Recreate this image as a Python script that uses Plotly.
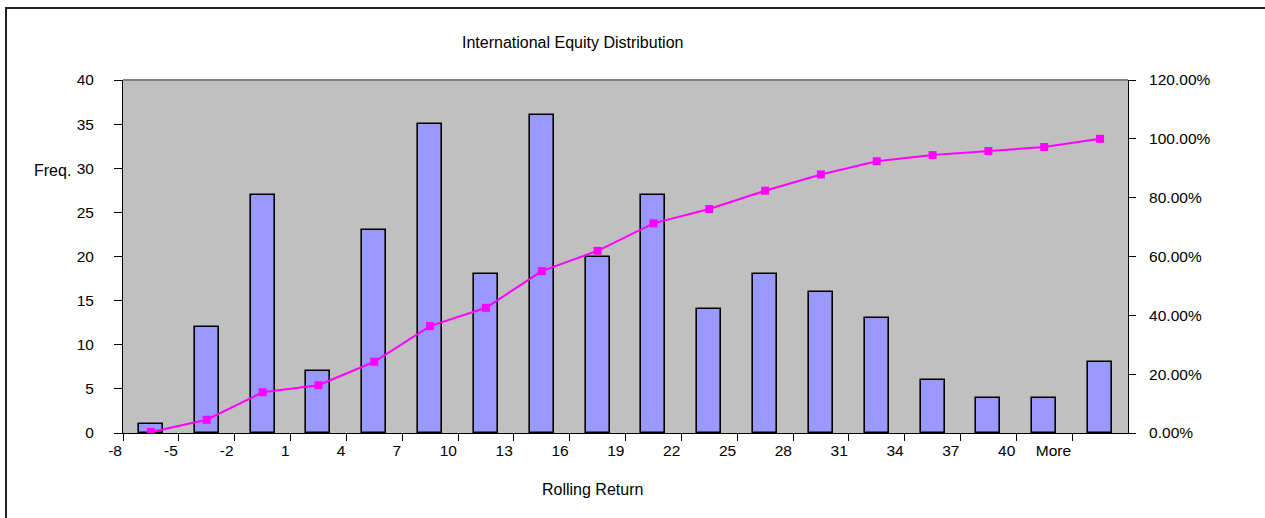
import numpy as np
import plotly.graph_objects as go

# Histogram bins (label shown at each bin's left boundary) and counts
bin_labels = ["-8", "-5", "-2", "1", "4", "7", "10", "13", "16", "19",
              "22", "25", "28", "31", "34", "37", "40", "More"]
frequency = [1, 12, 27, 7, 23, 35, 18, 36, 20, 27, 14, 18, 16, 13, 6, 4, 4, 8]

# Cumulative share of observations
cumulative_pct = np.cumsum(frequency) / np.sum(frequency)

n = len(frequency)
centers = np.arange(n) + 0.5
boundaries = np.arange(n)

FONT = "Liberation Sans, Arial, sans-serif"
TICK_SIZE = 15.5
TEXT_SIZE = 16
W, H = 1265, 518
L, R, T, B = 123, 137, 80, 85
pw, ph = W - L - R, H - T - B

fig = go.Figure()

fig.add_trace(go.Bar(
    x=centers, y=frequency, width=0.43,
    marker=dict(color="#9999FF", line=dict(color="#000000", width=1.6)),
    name="Frequency", yaxis="y",
))

fig.add_trace(go.Scatter(
    x=centers, y=cumulative_pct, mode="lines+markers",
    line=dict(color="#FF00FF", width=2),
    marker=dict(symbol="square", size=8, color="#FF00FF"),
    name="Cumulative %", yaxis="y2",
))

fig.update_layout(
    width=W, height=H,
    margin=dict(l=L, r=R, t=T, b=B),
    paper_bgcolor="white", plot_bgcolor="#C0C0C0",
    showlegend=False,
    font=dict(family=FONT, size=TICK_SIZE, color="#000000"),
    xaxis=dict(
        range=[0, n], tickmode="array", tickvals=boundaries, ticktext=bin_labels,
        ticks="outside", ticklen=7, tickcolor="#000000", tickwidth=1,
        showline=True, linecolor="#000000", linewidth=1,
        showgrid=False, zeroline=False, ticklabelposition="outside left",
        ticklabelstandoff=3,
        tickfont=dict(size=TICK_SIZE),
    ),
    yaxis=dict(
        range=[0, 40], dtick=5, tick0=0,
        ticks="outside", ticklen=8, tickcolor="#000000",
        showline=True, linecolor="#000000", linewidth=1,
        showgrid=False, zeroline=False, ticklabelstandoff=17,
        tickfont=dict(size=TICK_SIZE),
    ),
    yaxis2=dict(
        range=[0, 1.2], dtick=0.2, tick0=0, tickformat=".2%",
        overlaying="y", side="right",
        ticks="outside", ticklen=7, tickcolor="#000000",
        showline=True, linecolor="#000000", linewidth=1,
        showgrid=False, zeroline=False, ticklabelstandoff=10,
        tickfont=dict(size=TICK_SIZE),
    ),
    bargap=0,
)

def px_x(x):
    return (x - L) / pw

def px_y(y):
    return (H - B - y) / ph

# Outer chart frame and top edge of the plot area
fig.add_shape(type="rect", xref="paper", yref="paper",
              x0=px_x(6), x1=px_x(1300), y0=px_y(560), y1=px_y(8),
              line=dict(color="#222222", width=2), layer="above")
fig.add_shape(type="line", xref="paper", yref="paper",
              x0=0, x1=1, y0=1, y1=1,
              line=dict(color="#808080", width=2), layer="above")

fig.add_annotation(text="International Equity Distribution", xref="paper", yref="paper",
                   x=px_x(572), y=px_y(32), showarrow=False,
                   font=dict(family=FONT, size=TEXT_SIZE))
fig.add_annotation(text="Rolling Return", xref="paper", yref="paper",
                   x=px_x(592), y=px_y(500), showarrow=False,
                   font=dict(family=FONT, size=TEXT_SIZE))
fig.add_annotation(text="Freq.", xref="paper", yref="paper",
                   x=px_x(32), y=px_y(160), xanchor="left", showarrow=False,
                   font=dict(family=FONT, size=TEXT_SIZE))

fig.write_html("out.html")
